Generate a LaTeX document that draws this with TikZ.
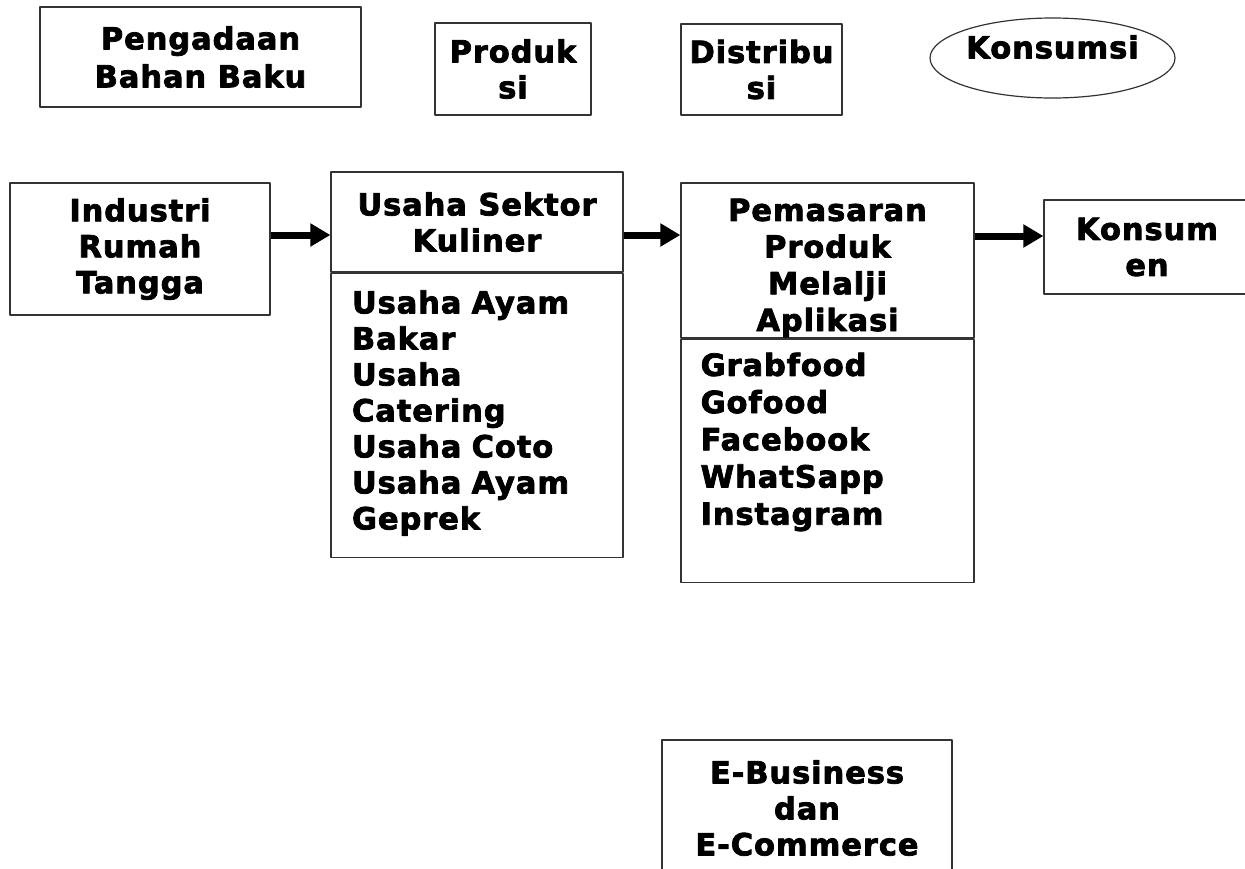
\documentclass[tikz,border=0pt]{standalone}
\usepackage{fontspec}
\setmainfont{DejaVu Sans}[FakeBold=2.5,LetterSpace=3]
\usetikzlibrary{shapes.geometric,arrows.meta}
\tikzset{
  kotak/.style={draw=black!80,rectangle,inner sep=0pt,align=center},
  daftar/.style={inner sep=0pt,align=left},
  panah/.style={line width=7pt,line cap=butt,-{Triangle[length=20pt,width=22pt]}}
}
\begin{document}
\begin{tikzpicture}[x=1pt,y=-1pt,line width=1.2pt,line cap=round,line join=round,
  font=\fontsize{30.5}{36}\selectfont\bfseries]
\useasboundingbox (0,0) rectangle (1245,868);
\node[kotak,minimum width=321pt,minimum height=100pt,font=\fontsize{30.5}{38}\selectfont\bfseries]
  (bahan) at (200.5,57) {Pengadaan\\Bahan Baku};
\node[kotak,minimum width=156pt,minimum height=92pt] (produksi) at (513,69) {Produk\\si};
\node[kotak,minimum width=161pt,minimum height=91pt] (distribusi) at (761.5,69.5) {Distribu\\si};
\node[draw=black!80,ellipse,minimum width=245pt,minimum height=80pt] (konsumsi) at (1052.5,58) {};
\node (konsumsiteks) at ([yshift=11pt]konsumsi.center) {Konsumsi};
\node[kotak,minimum width=260pt,minimum height=132pt] (industri) at (140,249) {Industri\\Rumah\\Tangga};
%\node (kuliner) ...
\node[kotak,minimum width=292pt,minimum height=100pt] (kuliner) at (477,222) {Usaha Sektor\\Kuliner};
\node[kotak,minimum width=292pt,minimum height=284pt,anchor=north] (kulinerisi) at (kuliner.south) {};
\node[daftar,text width=250pt] (kulinerdaftar) at (477,413) {Usaha Ayam\\Bakar\\Usaha\\Catering\\Usaha Coto\\Usaha Ayam\\Geprek};
\node[kotak,minimum width=293pt,minimum height=155pt] (pemasaran) at (827.5,260.5) {};
\node[align=center,inner sep=0pt,font=\fontsize{30.5}{36.7}\selectfont\bfseries]
  (pemasaranjudul) at ([yshift=-7.5pt]pemasaran.center) {Pemasaran\\Produk\\Melalji\\Aplikasi};
\node[kotak,fill=white,minimum width=293pt,minimum height=243pt,anchor=north] (pemasaranisi) at (pemasaran.south) {};
\node[daftar,anchor=west,font=\fontsize{30.5}{37.2}\selectfont\bfseries]
  (pemasarandaftar) at (700,442) {Grabfood\\Gofood\\Facebook\\WhatSapp\\Instagram};
\node[kotak,minimum width=206pt,minimum height=94pt] (konsumen) at (1147,247) {Konsum\\en};
\node[kotak,minimum width=290pt,minimum height=136pt] (ebisnis) at (807,808) {E-Business\\dan\\E-Commerce};
\draw[panah] ([yshift=14pt]industri.east) -- ([yshift=-13pt]kuliner.west);
\draw[panah] ([yshift=-13pt]kuliner.east) -- ([yshift=25.5pt]pemasaran.west);
\draw[panah] ([yshift=24.5pt]pemasaran.east) -- ([yshift=11pt]konsumen.west);
\end{tikzpicture}
\end{document}
